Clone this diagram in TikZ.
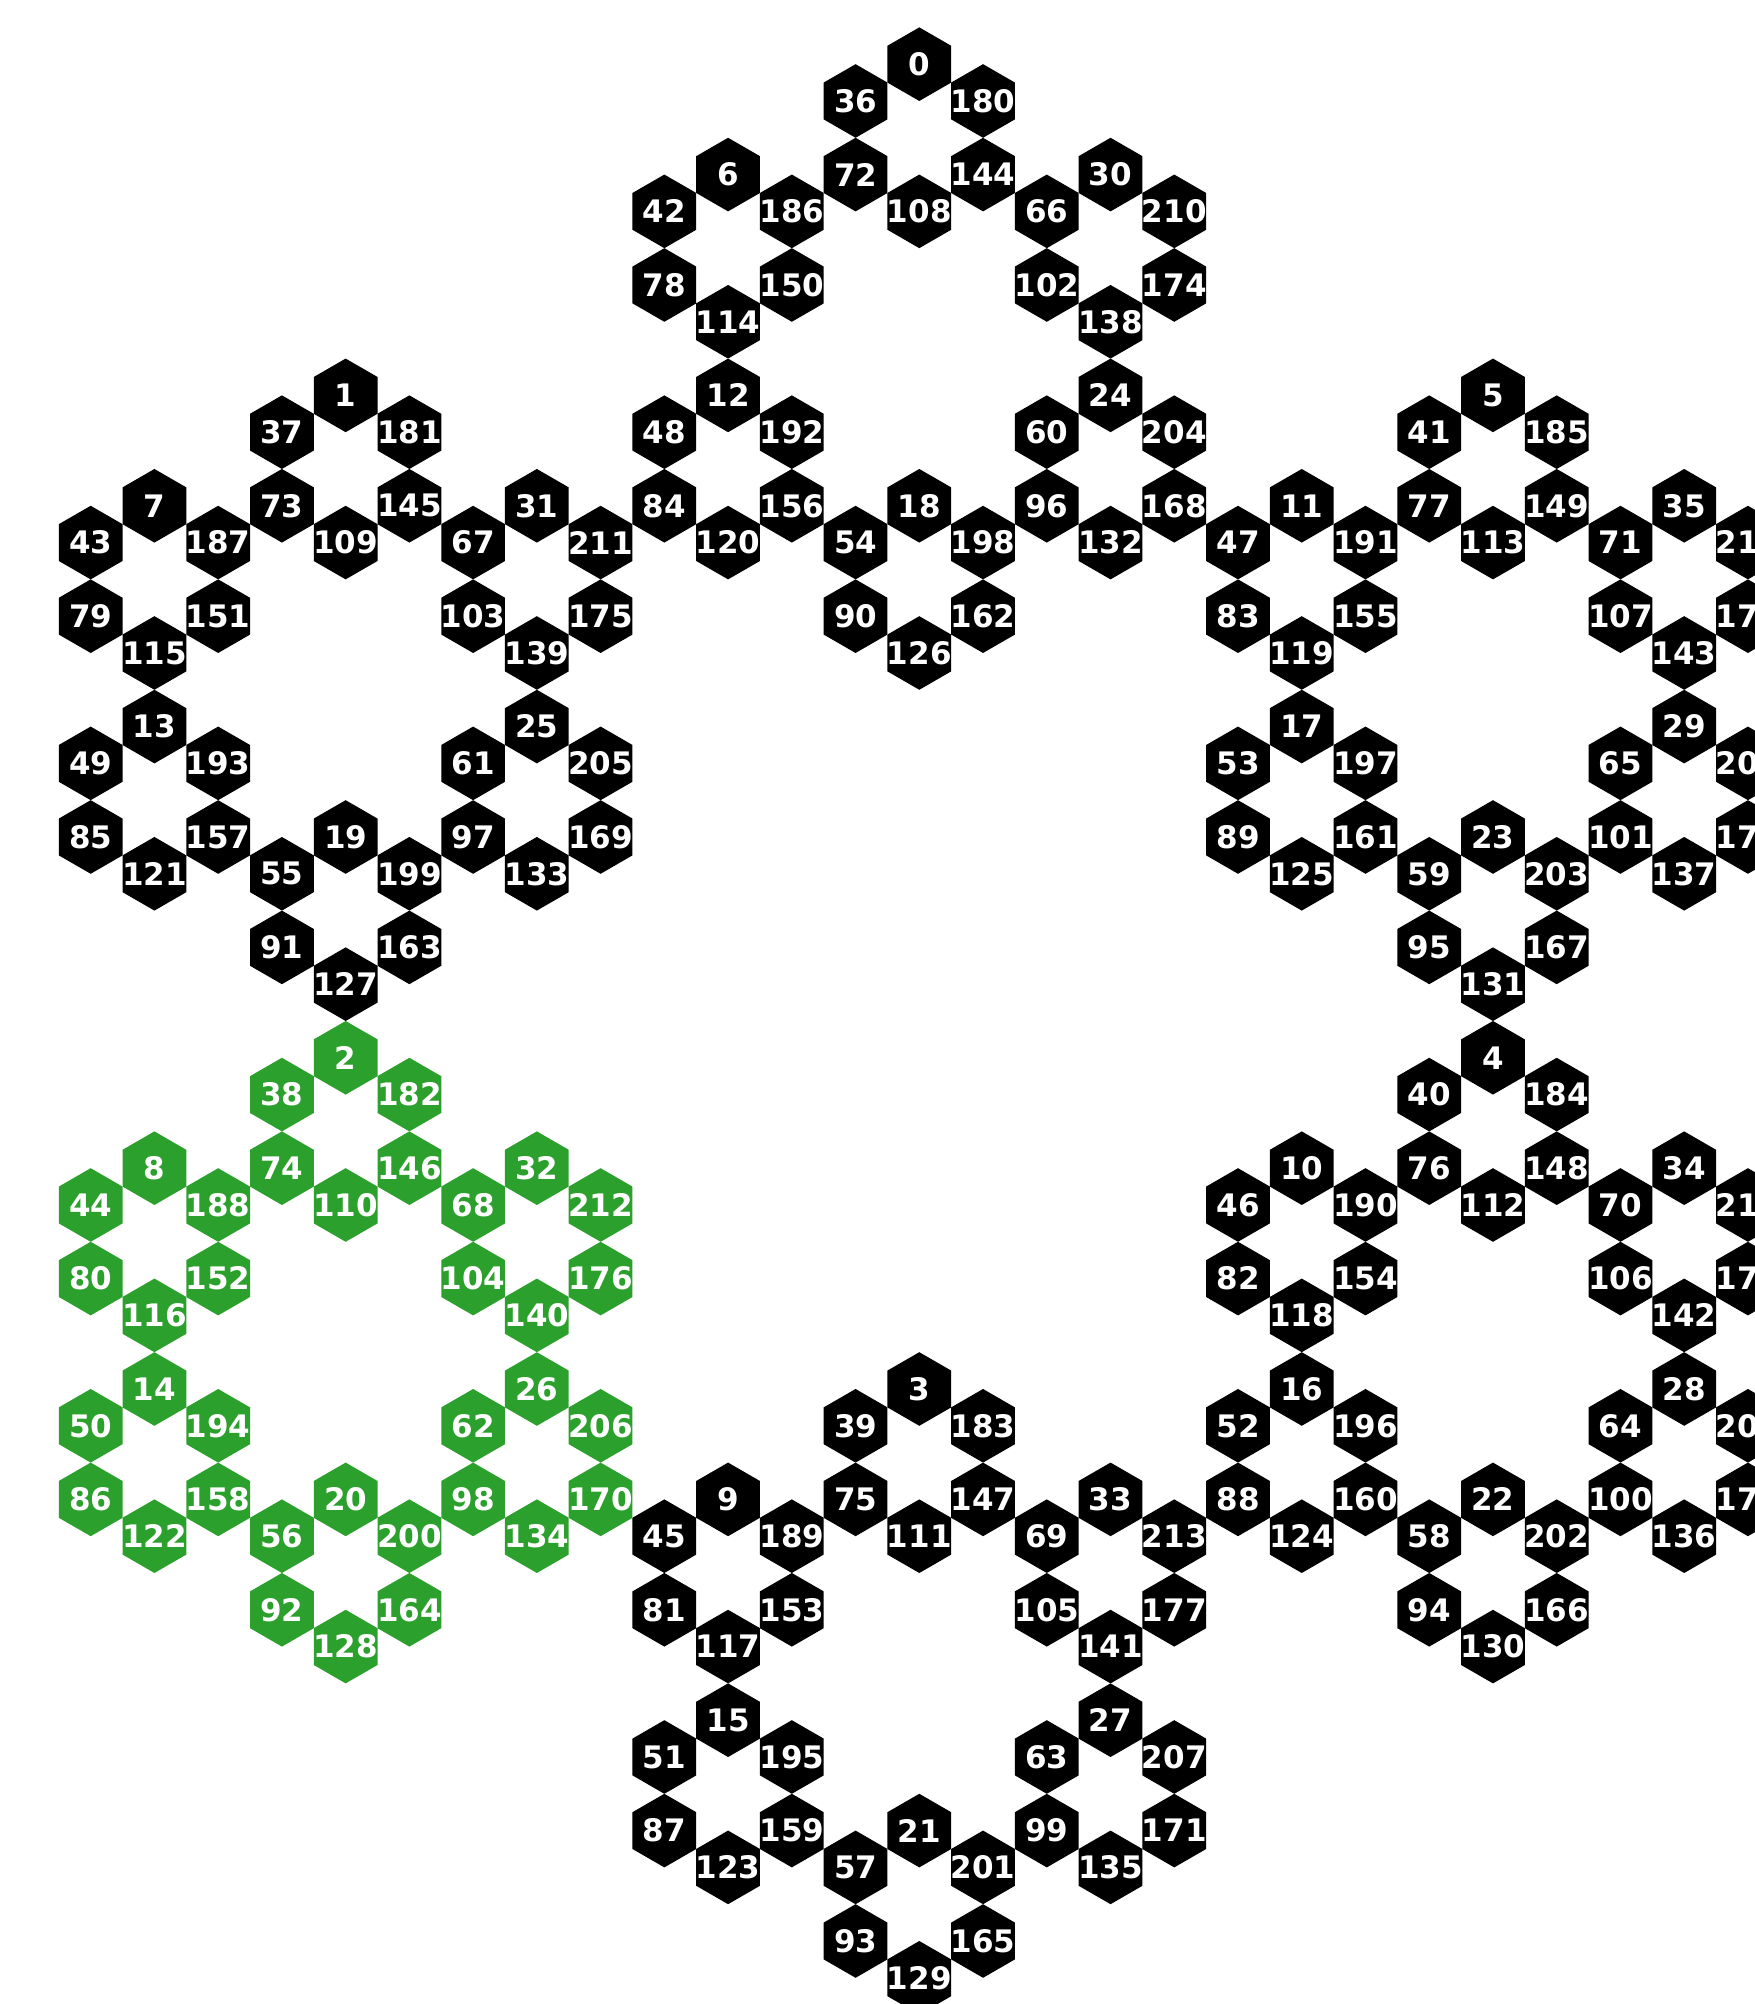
\documentclass[tikz,border=0pt]{standalone}
\usepackage{fontspec}
\setmainfont{DejaVu Sans}
\definecolor{hexgreen}{HTML}{2CA02C}
\begin{document}
\begin{tikzpicture}[x=1pt,y=1pt,
  lbl/.style={text=white,font=\bfseries\fontsize{31}{31}\selectfont,inner sep=0pt}]
\useasboundingbox (0,0) rectangle (1755,2004);
\clip (0,0) rectangle (1755,2004);
\def\ra{36.8}
\foreach \n in {0,...,215}{
  \pgfmathtruncatemacro\A{mod(\n,6)}
  \pgfmathtruncatemacro\B{mod(int(\n/6),6)}
  \pgfmathtruncatemacro\C{int(\n/36)}
  \pgfmathsetmacro\px{919.3+662.4*cos(90+60*\A)+220.8*cos(90+60*\B)+73.6*cos(90+60*\C)}
  \pgfmathsetmacro\py{983+662.4*sin(90+60*\A)+220.8*sin(90+60*\B)+73.6*sin(90+60*\C)}
  \ifnum\A=2 \def\hc{hexgreen}\else\def\hc{black}\fi
  \coordinate (p\n) at (\px,\py);
  \fill[\hc] (p\n) +(90:\ra) -- +(150:\ra) -- +(210:\ra) -- +(270:\ra) -- +(330:\ra) -- +(30:\ra) -- cycle;
  \node[lbl] (n\n) at (p\n) {\n};
}
\end{tikzpicture}
\end{document}
